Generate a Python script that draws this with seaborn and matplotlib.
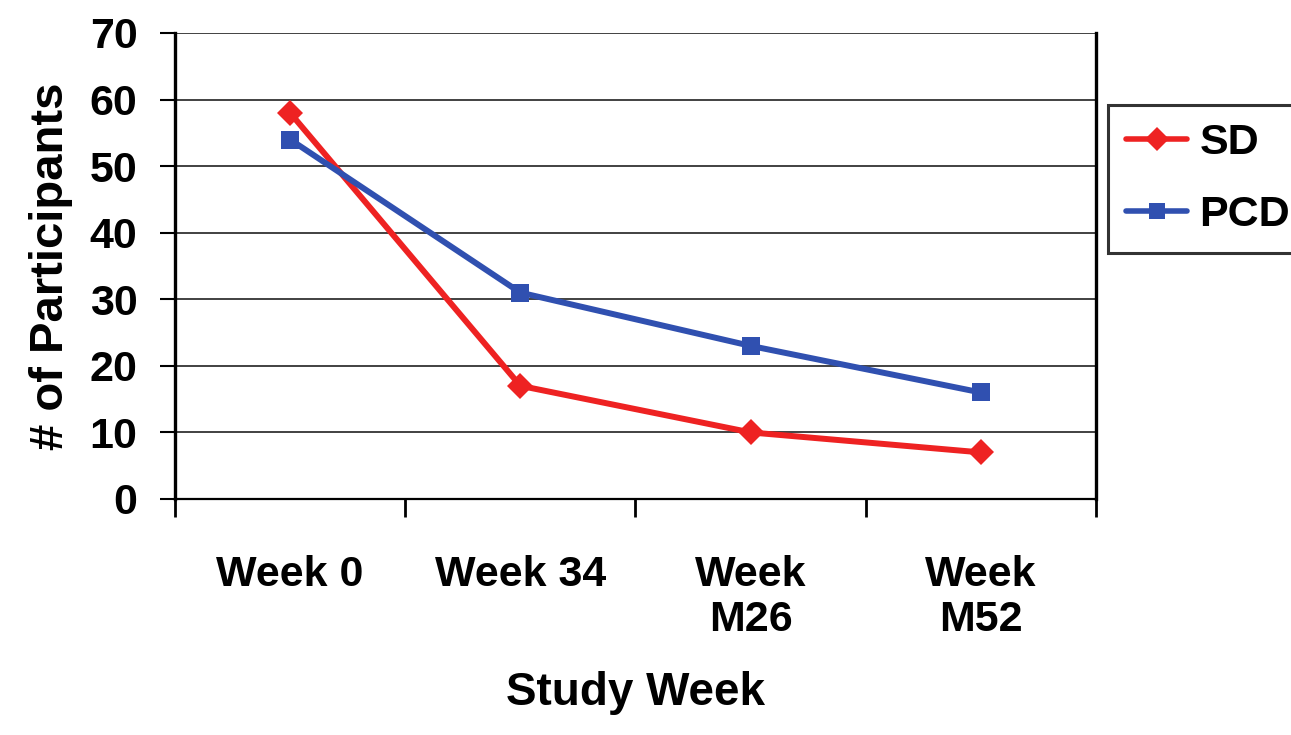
import matplotlib
matplotlib.use("Agg")
import matplotlib.pyplot as plt
import seaborn as sns
import pandas as pd
from matplotlib.ticker import FixedLocator

# Participants retained at each study visit
weeks = ["Week 0", "Week 34", "Week\nM26", "Week\nM52"]
sd_counts = [58, 17, 10, 7]
pcd_counts = [54, 31, 23, 16]
series_names = ["SD", "PCD"]

sns.set_theme(style="white")
plt.rcParams["font.family"] = ["Liberation Sans", "DejaVu Sans"]
plt.rcParams["font.weight"] = "bold"
plt.rcParams["text.color"] = "black"
plt.rcParams["axes.labelcolor"] = "black"
plt.rcParams["xtick.color"] = "black"
plt.rcParams["ytick.color"] = "black"

df = pd.DataFrame({
    "pos": list(range(len(weeks))) * 2,
    "count": sd_counts + pcd_counts,
    "series": [series_names[0]] * len(weeks) + [series_names[1]] * len(weeks),
})

fig = plt.figure(figsize=(12.91, 7.35), dpi=100)
ax = fig.add_axes([175 / 1291, 1 - 499 / 735, (1096 - 175) / 1291, (499 - 33) / 735])

palette = {"SD": "#EE2222", "PCD": "#3050B0"}
sns.lineplot(
    data=df, x="pos", y="count", hue="series", style="series",
    markers={"SD": "D", "PCD": "s"}, dashes=False, palette=palette,
    linewidth=4.3, markersize=13, markeredgewidth=0, ax=ax,
    hue_order=series_names, style_order=series_names, zorder=3,
)

ax.set_xlim(-0.5, len(weeks) - 0.5)
ax.set_ylim(0, 70)
ax.set_yticks(range(0, 71, 10))
ax.yaxis.grid(True, color="#333333", linewidth=1.3)
ax.xaxis.grid(False)
ax.set_axisbelow(True)

# category labels centred, tick marks between categories
ax.set_xticks(range(len(weeks)))
ax.set_xticklabels(weeks, fontsize=31, fontweight="bold", linespacing=1.18, va="top")
ax.xaxis.set_minor_locator(FixedLocator([i - 0.5 for i in range(len(weeks) + 1)]))
ax.tick_params(axis="x", which="major", bottom=True, length=0, pad=40)
ax.tick_params(axis="x", which="minor", bottom=True, length=13, width=2.0,
               color="black", direction="out")
ax.tick_params(axis="y", left=True, length=11, width=1.5, color="black",
               direction="out", pad=16, labelsize=31)
for lab in ax.get_yticklabels():
    lab.set_fontweight("bold")

for side in ["left", "right"]:
    ax.spines[side].set_visible(True)
    ax.spines[side].set_color("black")
    ax.spines[side].set_linewidth(2.4)
ax.spines["bottom"].set_color("black")
ax.spines["bottom"].set_linewidth(1.6)
ax.spines["top"].set_visible(False)

ax.set_xlabel("Study Week", fontsize=33, fontweight="bold", labelpad=22)
ax.set_ylabel("# of Participants", fontsize=34, fontweight="bold", labelpad=12)

handles, labels = ax.get_legend_handles_labels()
leg = ax.legend(
    handles, labels, loc="upper left", bbox_to_anchor=(1108 / 1291, 1 - 105 / 735),
    bbox_transform=fig.transFigure, frameon=True, fancybox=False,
    prop={"size": 31, "weight": "bold"}, handlelength=1.42, handletextpad=0.28,
    labelspacing=0.75, borderpad=0.42, borderaxespad=0,
)
leg.get_frame().set_edgecolor("black")
leg.get_frame().set_linewidth(2.2)
for h in leg.legend_handles:
    h.set_markersize(12)
    h.set_linewidth(4)

fig.savefig("out.png", dpi=100)
